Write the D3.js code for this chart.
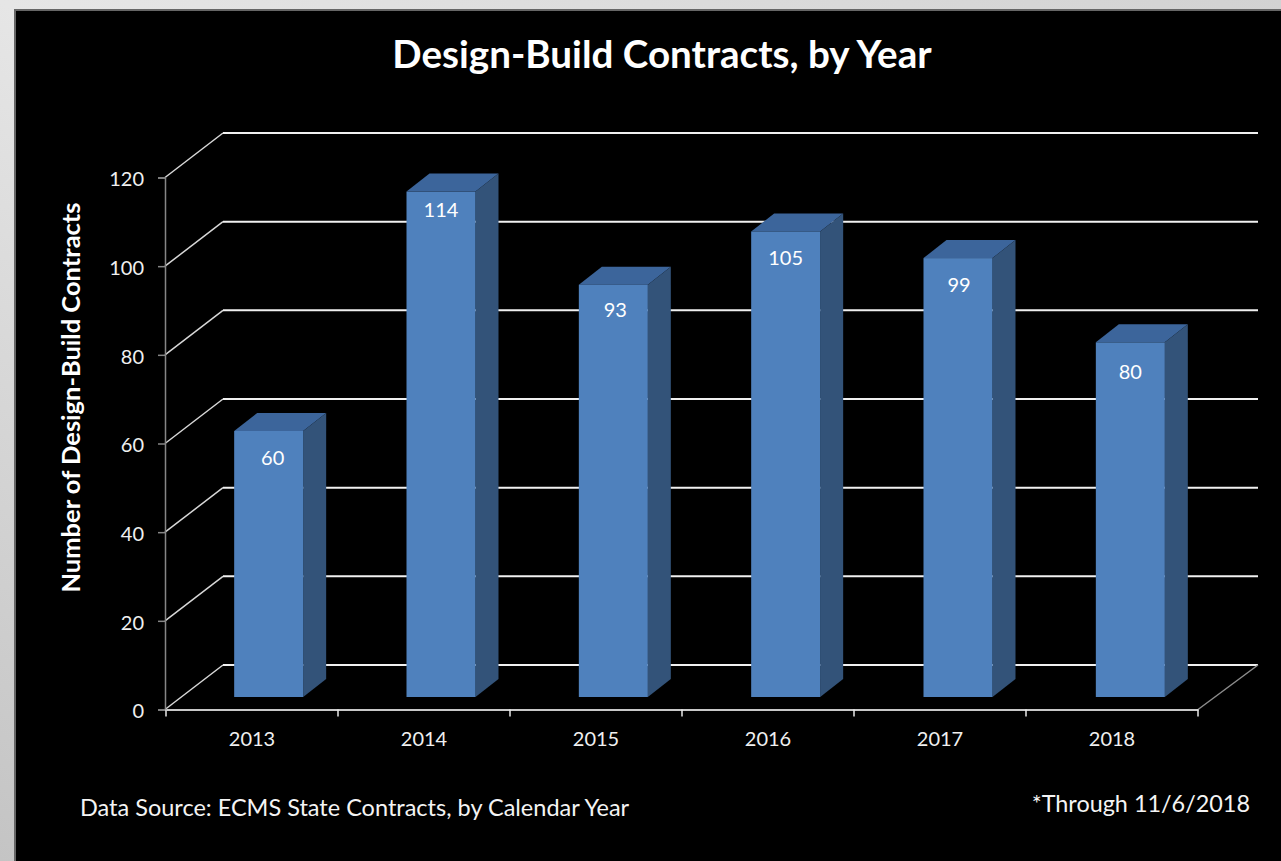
<!DOCTYPE html>
<html>
<head>
<meta charset="utf-8">
<script src="https://cdn.jsdelivr.net/npm/d3@7"></script>
<style>
html, body { margin: 0; padding: 0; background: #000; overflow: hidden; }
text { font-family: Lato, "Noto Sans", sans-serif; }
</style>
</head>
<body>
<script>
var years = ["2013", "2014", "2015", "2016", "2017", "2018"];
var contracts = [60, 114, 93, 105, 99, 80];
var yTicks = [0, 20, 40, 60, 80, 100, 120];

var chartTitle = "Design-Build Contracts, by Year";
var yTitle = "Number of Design-Build Contracts";
var sourceNote = "Data Source: ECMS State Contracts, by Calendar Year";
var dateNote = "*Through 11/6/2018";

var width = 1281, height = 861;

var svg = d3.select("body").append("svg")
    .attr("width", width)
    .attr("height", height)
    .style("display", "block");

// grey slide background behind the black panel
var grad = svg.append("defs").append("linearGradient")
    .attr("id", "slideBg")
    .attr("x1", "0").attr("y1", "1").attr("x2", "1").attr("y2", "0");
grad.append("stop").attr("offset", "0").attr("stop-color", "#c4c4c4");
grad.append("stop").attr("offset", "0.5").attr("stop-color", "#e6e6e6");
grad.append("stop").attr("offset", "1").attr("stop-color", "#d2d2d2");

svg.append("rect").attr("width", width).attr("height", height).attr("fill", "url(#slideBg)");
svg.append("rect").attr("x", 15).attr("y", 10).attr("width", width).attr("height", height)
    .attr("fill", "#000").attr("stroke", "#666").attr("stroke-width", 2);

var x = d3.scaleBand().domain(years).range([166, 1200]).paddingInner(0.6).paddingOuter(0.3);
var y = d3.scaleLinear().domain([0, 120]).range([709.5, 177.5]);

// 3d depth of the box and of the bars
var backX = 58, backY = -44.5;
var barShiftX = 16.5, barShiftY = -12.5;
var sideX = 23, sideY = -18;

var barW = 69;
function barLeft(d) { return x(d) + x.bandwidth() / 2 - barW / 2 + barShiftX; }
function barTop(v) { return y(v) + barShiftY; }
var barBase = y(0) + barShiftY;

// back wall gridlines + diagonals on the side wall
var grid = svg.append("g");
grid.selectAll("line.back").data(yTicks).enter().append("line")
    .attr("class", "back")
    .attr("x1", 223).attr("x2", 1258)
    .attr("y1", function(d) { return y(d) + backY; })
    .attr("y2", function(d) { return y(d) + backY; })
    .attr("stroke", "#f0f0f0").attr("stroke-width", 2);
grid.selectAll("line.side").data(yTicks).enter().append("line")
    .attr("class", "side")
    .attr("x1", 165).attr("x2", 223)
    .attr("y1", function(d) { return y(d); })
    .attr("y2", function(d) { return y(d) + backY; })
    .attr("stroke", "#d8d8d8").attr("stroke-width", 1.5);

// floor right edge
svg.append("line")
    .attr("x1", 1198).attr("y1", y(0))
    .attr("x2", 1258).attr("y2", y(0) + backY)
    .attr("stroke", "#8c8c8c").attr("stroke-width", 1.5);

// bars
var bars = svg.append("g").selectAll("g").data(years).enter().append("g");
bars.append("path")
    .attr("fill", "#3c659b")
    .attr("d", function(d, i) {
        var l = barLeft(d), t = barTop(contracts[i]);
        return "M" + l + "," + t + "l" + barW + ",0l" + sideX + "," + sideY + "l" + (-barW) + ",0Z";
    });
bars.append("path")
    .attr("fill", "#335379")
    .attr("d", function(d, i) {
        var r = barLeft(d) + barW, t = barTop(contracts[i]);
        return "M" + r + "," + t + "l" + sideX + "," + sideY + "L" + (r + sideX) + "," + (barBase + sideY) + "L" + r + "," + barBase + "Z";
    });
bars.append("rect")
    .attr("fill", "#4f81bd")
    .attr("x", barLeft)
    .attr("width", barW)
    .attr("y", function(d, i) { return barTop(contracts[i]); })
    .attr("height", function(d, i) { return barBase - barTop(contracts[i]); });

// labels sit a little unevenly in the original, nudged by hand
var labelNudgeX = [4, 0, 2, 0, 1, 0];
var labelNudgeY = [1, -8, -1, 0, 1, 4];
bars.append("text")
    .attr("x", function(d, i) { return barLeft(d) + barW / 2 + labelNudgeX[i]; })
    .attr("y", function(d, i) { return barTop(contracts[i]) + 33 + labelNudgeY[i]; })
    .attr("text-anchor", "middle")
    .attr("fill", "#fff")
    .attr("font-size", 20)
    .text(function(d, i) { return contracts[i]; });

// axes
var yAxis = svg.append("g").attr("transform", "translate(165,0)")
    .call(d3.axisLeft(y).tickValues(yTicks).tickSize(7).tickPadding(14));
yAxis.select(".domain").attr("stroke", "#868686").attr("stroke-width", 1.5);
yAxis.selectAll(".tick line").attr("stroke", "#868686").attr("stroke-width", 1.5);
yAxis.selectAll("text").attr("fill", "#f0f0f0").attr("font-size", 20).attr("font-family", "Lato, sans-serif").attr("dy", "0.42em");

var xAxisEdges = d3.scaleBand().domain(years).range([166, 1198]);
var xAxis = svg.append("g").attr("transform", "translate(0," + y(0) + ")")
    .call(d3.axisBottom(xAxisEdges).tickSizeOuter(0).tickSize(0).tickPadding(22));
xAxis.select(".domain").attr("stroke", "#c8c8c8").attr("stroke-width", 2);
xAxis.selectAll("text").attr("fill", "#f0f0f0").attr("font-size", 20).attr("font-family", "Lato, sans-serif");
xAxis.selectAll("line.edge").data(d3.range(0, years.length + 1)).enter().append("line")
    .attr("class", "edge")
    .attr("x1", function(d) { return 166 + d * xAxisEdges.step(); })
    .attr("x2", function(d) { return 166 + d * xAxisEdges.step(); })
    .attr("y1", 0).attr("y2", 7)
    .attr("stroke", "#e8e8e8").attr("stroke-width", 1.5);

// titles and notes
svg.append("text")
    .attr("x", 662).attr("y", 68)
    .attr("text-anchor", "middle")
    .attr("fill", "#fff")
    .attr("font-size", 38.6)
    .attr("font-weight", 700)
    .text(chartTitle);

svg.append("text")
    .attr("transform", "translate(80,397.5) rotate(-90)")
    .attr("text-anchor", "middle")
    .attr("fill", "#fff")
    .attr("font-size", 25.5)
    .attr("font-weight", 700)
    .text(yTitle);

svg.append("text")
    .attr("x", 80).attr("y", 816)
    .attr("fill", "#f4f4f4")
    .attr("font-size", 23.5)
    .text(sourceNote);

svg.append("text")
    .attr("x", 1250).attr("y", 812)
    .attr("text-anchor", "end")
    .attr("fill", "#f4f4f4")
    .attr("font-size", 23.4)
    .text(dateNote);
</script>
</body>
</html>
